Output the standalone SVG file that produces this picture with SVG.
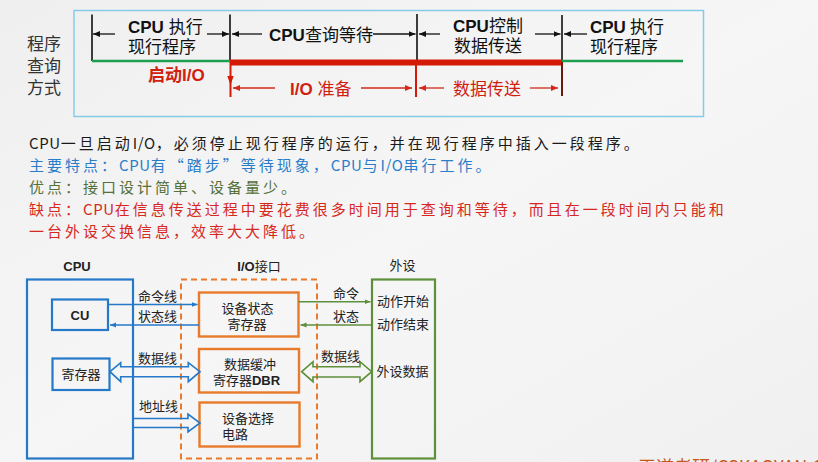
<svg xmlns="http://www.w3.org/2000/svg" width="818" height="462" viewBox="0 0 818 462">
<defs>
<style>
text{font-family:"Noto Sans CJK SC","Liberation Sans",sans-serif;}
.t{font-size:17px;fill:#111;font-family:"Liberation Sans","Noto Sans CJK SC",sans-serif}
.b{font-weight:bold}
.red{fill:#d0200e}
.para{font-size:15px;letter-spacing:3px}
.la{letter-spacing:0.6px}
.lab{font-size:13px;fill:#222;font-family:"Liberation Sans","Noto Sans CJK SC",sans-serif}
.lab2{font-size:13px;fill:#222;text-anchor:middle;font-family:"Liberation Sans","Noto Sans CJK SC",sans-serif}
.blk{stroke:#111;stroke-width:1.3;fill:none}
.vk{stroke:#111;stroke-width:1.6;fill:none}
.rd{stroke:#d22a1a;stroke-width:1.3;fill:none}
.bl{stroke:#2479c9;stroke-width:2.2;fill:none}
.bla{stroke:#2479c9;stroke-width:1.6;fill:none}
.or{stroke:#e97a2c;stroke-width:2.4;fill:none}
.gr{stroke:#5e8f3a;stroke-width:2.2;fill:none}
.gra{stroke:#5e8f3a;stroke-width:1.6;fill:none}
</style>
<linearGradient id="bg" x1="0" y1="0" x2="1" y2="1">
<stop offset="0" stop-color="#efefef"/><stop offset="0.5" stop-color="#f6f6f6"/><stop offset="1" stop-color="#f0f0f0"/>
</linearGradient>
<marker id="ak" markerWidth="8" markerHeight="8" refX="7" refY="3.5" orient="auto" markerUnits="userSpaceOnUse"><path d="M0,0.5 L7,3.5 L0,6.5 Z" fill="#111"/></marker>
<marker id="ar" markerWidth="8" markerHeight="8" refX="7" refY="3.5" orient="auto" markerUnits="userSpaceOnUse"><path d="M0,0.5 L7,3.5 L0,6.5 Z" fill="#d22a1a"/></marker>
<marker id="ab" markerWidth="8" markerHeight="8" refX="6" refY="3" orient="auto" markerUnits="userSpaceOnUse"><path d="M0,0.5 L6,3 L0,5.5 Z" fill="#2479c9"/></marker>
<marker id="ag" markerWidth="8" markerHeight="8" refX="6" refY="3" orient="auto" markerUnits="userSpaceOnUse"><path d="M0,0.5 L6,3 L0,5.5 Z" fill="#5e8f3a"/></marker>
</defs>
<rect x="0" y="0" width="818" height="462" fill="url(#bg)"/>

<g id="timeline">
<rect x="74" y="10.5" width="629.5" height="106" fill="none" stroke="#86cbe6" stroke-width="1.5"/>
<text class="t" x="27" y="50" style="fill:#333">程序</text>
<text class="t" x="27" y="72" style="fill:#333">查询</text>
<text class="t" x="27" y="94" style="fill:#333">方式</text>

<path class="vk" d="M92,14.5 V61 M230,14.5 V61 M417,14 V60 M562,15 V62"/>
<path d="M92,61 H230 M562,61 H683" stroke="#1e9e4f" stroke-width="2.6" fill="none"/>
<path d="M230,62.5 H562" stroke="#d41a04" stroke-width="6" fill="none"/>
<path d="M230.5,62 V97 M416,62 V97" stroke="#d41a04" stroke-width="2" fill="none"/>
<path d="M562,62 V96" stroke="#6b1a12" stroke-width="2" fill="none"/>
<path d="M227.3,76 L233.7,76 L230.5,85 Z" fill="#d41a04"/>

<path class="blk" marker-end="url(#ak)" d="M115,34 L93,34"/>
<path class="blk" marker-end="url(#ak)" d="M207,34 L229,34"/>
<path class="blk" marker-end="url(#ak)" d="M262,34 L232,34"/>
<path class="blk" marker-end="url(#ak)" d="M373,34 L415.5,34"/>
<path class="blk" marker-end="url(#ak)" d="M440,34 L419,34"/>
<path class="blk" marker-end="url(#ak)" d="M535,34 L560.5,34"/>
<path class="blk" marker-end="url(#ak)" d="M587,34 L564,34"/>

<path class="rd" marker-end="url(#ar)" d="M275,88 L233,88"/>
<path class="rd" marker-end="url(#ar)" d="M361,88 L412,88"/>
<path class="rd" marker-end="url(#ar)" d="M444,88 L419,88"/>
<path class="rd" marker-end="url(#ar)" d="M530,88 L558,88"/>

<text class="t" x="128" y="33"><tspan class="b">CPU</tspan> 执行</text>
<text class="t" x="128" y="53">现行程序</text>
<text class="t" x="269" y="40.5"><tspan class="b">CPU</tspan>查询等待</text>
<text class="t" x="453" y="31.5"><tspan class="b">CPU</tspan>控制</text>
<text class="t" x="454" y="52">数据传送</text>
<text class="t" x="590" y="33"><tspan class="b">CPU</tspan><tspan x="630">执行</tspan></text>
<text class="t" x="590" y="53">现行程序</text>
<text class="t red b" x="148" y="81">启动I/O</text>
<text class="t red" x="290" y="95"><tspan class="b">I/O</tspan> 准备</text>
<text class="t red" x="453" y="95">数据传送</text>
</g>

<g id="paragraph">
<text class="para" x="29" y="148.5" fill="#1a1a1a"><tspan class="la">CPU</tspan>一旦启动<tspan class="la">I/O</tspan>，必须停止现行程序的运行，并在现行程序中插入一段程序。</text>
<text class="para" x="29" y="170.5" fill="#2a7dc9">主要特点：<tspan class="la">CPU</tspan>有“踏步”等待现象，<tspan class="la">CPU</tspan>与<tspan class="la">I/O</tspan>串行工作。</text>
<text class="para" x="29" y="192.5" fill="#55703a">优点：接口设计简单、设备量少。</text>
<text class="para" x="29" y="214.5" fill="#d7281e">缺点：<tspan class="la">CPU</tspan>在信息传送过程中要花费很多时间用于查询和等待，而且在一段时间内只能和</text>
<text class="para" x="29" y="236.5" fill="#d7281e">一台外设交换信息，效率大大降低。</text>
</g>

<g id="cpu">
<text class="lab2 b" x="77" y="271">CPU</text>
<rect class="bl" x="27" y="279.5" width="106" height="179"/>
</g>
<g id="cu">
<rect class="bl" x="52" y="299.5" width="56" height="30.5"/>
<text class="lab2 b" x="80" y="319.5">CU</text>
</g>
<g id="reg">
<rect class="bl" x="52.5" y="358.5" width="57" height="31.5"/>
<text class="lab2" x="81" y="378.8">寄存器</text>
</g>

<g id="io">
<text class="lab2" x="259" y="271"><tspan class="b">I/O</tspan>接口</text>
<rect x="181" y="279.5" width="136" height="179" fill="none" stroke="#e97a2c" stroke-width="2" stroke-dasharray="6 4"/>
</g>
<g id="status-reg">
<rect class="or" x="199" y="292.5" width="99.5" height="44"/>
<text class="lab2" x="247.5" y="313">设备状态</text>
<text class="lab2" x="247" y="328.8">寄存器</text>
</g>
<g id="dbr">
<rect class="or" x="199" y="349" width="100" height="43.5"/>
<text class="lab2" x="250" y="369">数据缓冲</text>
<text class="lab2" x="246.5" y="384.8">寄存器<tspan class="b">DBR</tspan></text>
</g>
<g id="select">
<rect class="or" x="199.5" y="402.5" width="100" height="44"/>
<text class="lab2" x="248" y="423">设备选择</text>
<text class="lab" x="222" y="439">电路</text>
</g>

<g id="device">
<text class="lab2" x="402.5" y="270">外设</text>
<rect class="gr" x="372" y="279.5" width="63" height="179"/>
<text class="lab" x="377" y="306.3">动作开始</text>
<text class="lab" x="377" y="328.6">动作结束</text>
<text class="lab" x="376.5" y="376.3">外设数据</text>
</g>

<g id="connectors">
<path class="bla" marker-end="url(#ab)" d="M108,304.5 L197.5,304.5"/>
<path class="bla" marker-end="url(#ab)" d="M199,325 L110,325"/>
<path class="bla" d="M110,371.7 L120.7,362.7 V366.7 H188.3 V362.7 L200,371.7 L188.3,381.7 V376.7 H120.7 V381.7 Z"/>
<path class="bla" d="M133,418.5 H188 V414 L200,423 L188,432 V427.5 H133"/>
<path class="gra" marker-end="url(#ag)" d="M298.5,301.7 L370.5,301.7"/>
<path class="gra" marker-end="url(#ag)" d="M372,325 L300.5,325"/>
<path class="gra" d="M301.7,371.7 L313,361.7 V366.7 H360 V361.7 L371.7,371.7 L360,381.7 V377 H313 V381.7 Z"/>
<text class="lab" x="138" y="301">命令线</text>
<text class="lab" x="138" y="321">状态线</text>
<text class="lab" x="138" y="363">数据线</text>
<text class="lab" x="139" y="410.5">地址线</text>
<text class="lab" x="333" y="297.8">命令</text>
<text class="lab" x="333" y="320.6">状态</text>
<text class="lab" x="321" y="360.6">数据线</text>
</g>

<text x="638" y="474" font-size="18" fill="#c55a1f">王道考研/CSKAOYAN.COM</text>
</svg>
